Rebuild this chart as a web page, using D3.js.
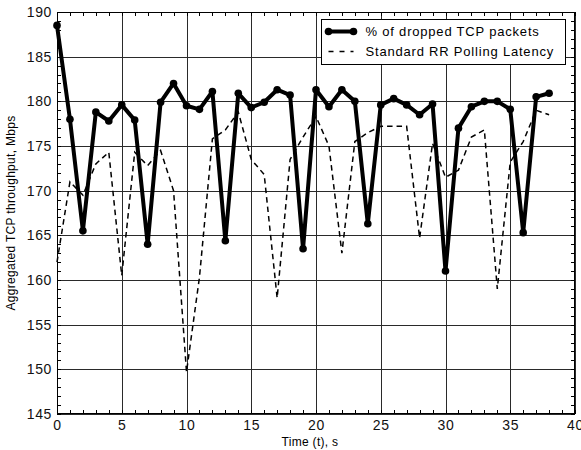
<!DOCTYPE html>
<html>
<head>
<meta charset="utf-8">
<script src="https://cdn.jsdelivr.net/npm/d3@7"></script>
<style>
  body { margin: 0; background: #fff; }
  svg { display: block; font-family: 'Liberation Sans', Arial, sans-serif; }
  .grid line { stroke: #2a2a2a; stroke-width: 1; shape-rendering: crispEdges; }
  .grid path { display: none; }
  .minor line { stroke: #000; shape-rendering: crispEdges; }
  .minor path { display: none; }
  .labels path, .labels line { display: none; }
  .labels text { font-size: 14px; fill: #111; letter-spacing: 0.6px; }
</style>
</head>
<body>
<div id="chart"></div>
<script>
const time = d3.range(0, 39)
const dropped = [188.5, 178, 165.5, 178.8, 177.8, 179.6, 177.9, 164, 179.9, 182,
  179.5, 179.1, 181.1, 164.4, 180.9, 179.3, 179.9, 181.3, 180.7, 163.5,
  181.3, 179.4, 181.3, 180, 166.3, 179.6, 180.3, 179.6, 178.5, 179.7,
  161, 177, 179.4, 180, 180, 179.1, 165.3, 180.5, 180.9]
const polling = [162, 171, 169.5, 173, 174.3, 160.5, 174.3, 172.8, 174.5, 170,
  149.7, 160.3, 175.8, 176.8, 178.8, 173.5, 171.8, 158, 173.5, 176,
  178.3, 175, 163, 175.5, 176.5, 177.2, 177.2, 177.2, 164.7, 175.3,
  171.5, 172.3, 176, 176.8, 159, 173.2, 175.5, 179, 178.5]
const seriesNames = ['% of dropped TCP packets', 'Standard RR Polling Latency']
const xTicks = [0, 5, 10, 15, 20, 25, 30, 35, 40]
const yTicks = [145, 150, 155, 160, 165, 170, 175, 180, 185, 190]

const config = {
  width: 581,
  height: 450,
  margin: { top: 12, right: 6, bottom: 36, left: 57 }
}
const innerW = config.width - config.margin.left - config.margin.right
const innerH = config.height - config.margin.top - config.margin.bottom

const x = d3.scaleLinear().domain([0, 40]).range([config.margin.left, config.width - config.margin.right])
const y = d3.scaleLinear().domain([145, 190]).range([config.height - config.margin.bottom, config.margin.top])

const svg = d3.select('#chart')
  .append('svg')
    .attr('width', config.width)
    .attr('height', config.height)

// major grid
svg.append('g').attr('class', 'grid')
  .attr('transform', `translate(0, ${config.height - config.margin.bottom})`)
  .call(d3.axisBottom(x).tickValues(xTicks).tickSize(-innerH).tickFormat(''))
svg.append('g').attr('class', 'grid')
  .attr('transform', `translate(${config.margin.left}, 0)`)
  .call(d3.axisLeft(y).tickValues(yTicks).tickSize(-innerW).tickFormat(''))

// minor ticks, inward on all four sides
const xMinor = d3.range(0, 41)
const yMinor = d3.range(145, 191)
svg.append('g').attr('class', 'minor')
  .attr('transform', `translate(0, ${config.height - config.margin.bottom})`)
  .call(d3.axisBottom(x).tickValues(xMinor).tickSize(-4).tickFormat(''))
svg.append('g').attr('class', 'minor')
  .attr('transform', `translate(0, ${config.margin.top})`)
  .call(d3.axisTop(x).tickValues(xMinor).tickSize(-4).tickFormat(''))
svg.append('g').attr('class', 'minor')
  .attr('transform', `translate(${config.margin.left}, 0)`)
  .call(d3.axisLeft(y).tickValues(yMinor).tickSize(-4).tickFormat(''))
svg.append('g').attr('class', 'minor')
  .attr('transform', `translate(${config.width - config.margin.right}, 0)`)
  .call(d3.axisRight(y).tickValues(yMinor).tickSize(-4).tickFormat(''))

// tick labels (the last x label runs off the edge, as in the original)
svg.append('g').attr('class', 'labels')
  .attr('transform', `translate(0, ${config.height - config.margin.bottom})`)
  .call(d3.axisBottom(x).tickValues(xTicks).tickSize(0).tickPadding(6))
svg.append('g').attr('class', 'labels')
  .attr('transform', `translate(${config.margin.left}, 0)`)
  .call(d3.axisLeft(y).tickValues(yTicks).tickSize(0).tickPadding(5))

// frame
svg.append('rect')
  .attr('x', config.margin.left + 0.5)
  .attr('y', config.margin.top + 0.5)
  .attr('width', innerW - 1)
  .attr('height', innerH - 1)
  .attr('fill', 'none')
  .attr('stroke', '#000')

// axis titles
svg.append('text')
  .attr('x', config.margin.left + innerW / 2 - 6)
  .attr('y', 446)
  .attr('text-anchor', 'middle')
  .style('font-size', '12px')
  .style('letter-spacing', '0.3px')
  .text('Time (t), s')
svg.append('text')
  .attr('transform', `translate(15, ${config.margin.top + innerH / 2}) rotate(-90)`)
  .attr('text-anchor', 'middle')
  .style('font-size', '12px')
  .style('letter-spacing', '0.3px')
  .text('Aggregated TCP throughput, Mbps')

// series
const line = d3.line().x((d, i) => x(time[i])).y(d => y(d))

svg.append('path')
  .datum(polling)
  .attr('fill', 'none')
  .attr('stroke', '#000')
  .attr('stroke-width', 1.5)
  .attr('stroke-dasharray', '5.5,4')
  .attr('d', line)

svg.append('path')
  .datum(dropped)
  .attr('fill', 'none')
  .attr('stroke', '#000')
  .attr('stroke-width', 4)
  .attr('stroke-linejoin', 'round')
  .attr('d', line)

svg.append('g')
  .selectAll('circle')
  .data(dropped)
  .join('circle')
    .attr('cx', (d, i) => x(time[i]))
    .attr('cy', d => y(d))
    .attr('r', 3.8)
    .attr('fill', '#000')

// legend
const legend = svg.append('g').attr('transform', 'translate(321.5, 19.5)')
legend.append('rect')
  .attr('width', 244)
  .attr('height', 45)
  .attr('fill', '#fff')
  .attr('stroke', '#000')
legend.selectAll('g')
  .data(seriesNames)
  .join('g')
    .attr('transform', (d, i) => `translate(0, ${12 + i * 20})`)
  .call(g => g.append('line')
    .attr('x1', 7).attr('x2', 32)
    .attr('stroke', '#000')
    .attr('stroke-width', (d, i) => i === 0 ? 4 : 1.5)
    .attr('stroke-dasharray', (d, i) => i === 0 ? null : '5,6'))
  .call(g => g.filter((d, i) => i === 0).selectAll('circle')
    .data([7, 32])
    .join('circle')
      .attr('cx', d => d)
      .attr('r', 3.8))
  .call(g => g.append('text')
    .attr('x', 44)
    .attr('dy', '0.35em')
    .style('font-size', '13px')
    .style('letter-spacing', '0.8px')
    .text(d => d))
</script>
</body>
</html>
